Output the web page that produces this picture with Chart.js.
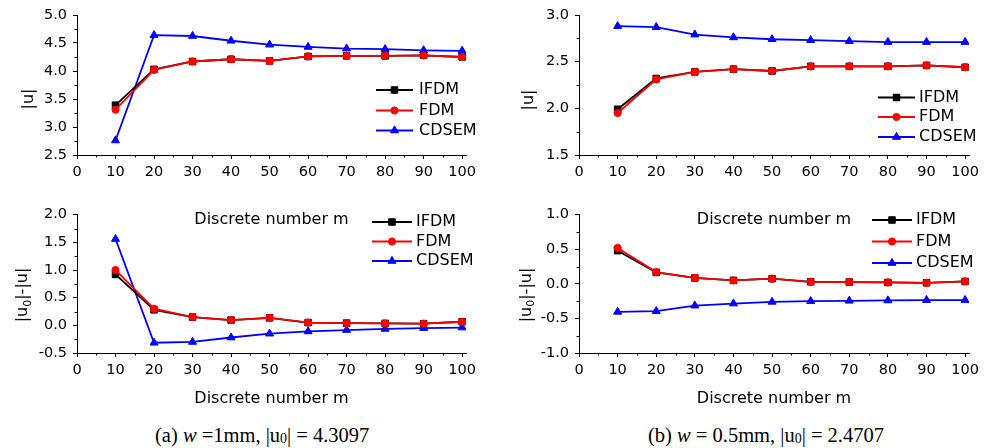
<!DOCTYPE html>
<html>
<head>
<meta charset="utf-8">
<script src="https://cdn.jsdelivr.net/npm/chart.js@4/dist/chart.umd.min.js"></script>
<style>
  body { margin: 0; background: #fff; }
  #wrap { position: relative; width: 995px; height: 448px; overflow: hidden; }
  canvas { position: absolute; }
  .cap { position: absolute; top: 423px; font-family: "Liberation Serif", "Times New Roman", serif; font-size: 20.5px; line-height: 24px; color: #000; white-space: nowrap; }
  .cap sub { font-size: 14px; vertical-align: -1px; }
</style>
</head>
<body>
<div id="wrap">
  <canvas id="ta" width="497" height="232" style="left:0;top:0"></canvas>
  <canvas id="tb" width="498" height="232" style="left:497px;top:0"></canvas>
  <canvas id="ba" width="497" height="210" style="left:0;top:200px"></canvas>
  <canvas id="bb" width="498" height="210" style="left:497px;top:200px"></canvas>
  <div class="cap" style="left:155px">(a) <i>w</i> =1mm, |u<sub>0</sub>| = 4.3097</div>
  <div class="cap" style="left:648px">(b) <i>w</i> = 0.5mm, |u<sub>0</sub>| = 2.4707</div>
</div>
<script>
// discrete number m
const mValues = [10, 20, 30, 40, 50, 60, 70, 80, 90, 100];
const xTicks = [0, 10, 20, 30, 40, 50, 60, 70, 80, 90, 100];

// (a) w = 1mm, |u0| = 4.3097
const ifdmA = [3.39, 4.03, 4.17, 4.21, 4.18, 4.26, 4.27, 4.27, 4.28, 4.25];
const fdmA = [3.31, 4.02, 4.17, 4.21, 4.18, 4.26, 4.27, 4.27, 4.28, 4.25];
const cdsemA = [2.76, 4.64, 4.625, 4.54, 4.47, 4.43, 4.40, 4.39, 4.37, 4.36];
const ifdmErrA = [0.92, 0.28, 0.15, 0.095, 0.135, 0.05, 0.04, 0.035, 0.03, 0.065];
const fdmErrA = [1.00, 0.30, 0.15, 0.095, 0.135, 0.05, 0.04, 0.035, 0.03, 0.065];
const cdsemErrA = [1.56, -0.315, -0.30, -0.22, -0.15, -0.11, -0.085, -0.065, -0.05, -0.04];

// (b) w = 0.5mm, |u0| = 2.4707
const ifdmB = [1.99, 2.32, 2.39, 2.42, 2.40, 2.45, 2.45, 2.45, 2.46, 2.44];
const fdmB = [1.95, 2.31, 2.39, 2.42, 2.40, 2.45, 2.45, 2.45, 2.46, 2.44];
const cdsemB = [2.88, 2.87, 2.79, 2.76, 2.74, 2.73, 2.72, 2.71, 2.71, 2.71];
const ifdmErrB = [0.48, 0.165, 0.085, 0.05, 0.075, 0.03, 0.025, 0.02, 0.015, 0.035];
const fdmErrB = [0.52, 0.17, 0.085, 0.05, 0.075, 0.03, 0.025, 0.02, 0.015, 0.035];
const cdsemErrB = [-0.405, -0.395, -0.315, -0.285, -0.26, -0.25, -0.245, -0.24, -0.235, -0.235];

// y tick labels
const yTicksA = [2.5, 3.0, 3.5, 4.0, 4.5, 5.0];
const yTicksB = [1.5, 2.0, 2.5, 3.0];
const yTicksErrA = [-0.5, 0.0, 0.5, 1.0, 1.5, 2.0];
const yTicksErrB = [-1.0, -0.5, 0.0, 0.5, 1.0];

const seriesNames = ["IFDM", "FDM", "CDSEM"];
const xTitle = "Discrete number m";

const FONT = "DejaVu Sans";

// minor ticks, y axis titles and the legend box
const deco = {
  id: "deco",
  afterDraw(chart, args, opts) {
    const c = chart.ctx;
    const xs = chart.scales.x, ys = chart.scales.y;
    c.save();
    c.strokeStyle = "#000";
    c.lineWidth = 1;
    c.beginPath();
    for (let i = 0; i < xTicks.length - 1; i++) {
      const px = Math.round(xs.getPixelForValue((xTicks[i] + xTicks[i + 1]) / 2)) + 0.5;
      c.moveTo(px, xs.top);
      c.lineTo(px, xs.top + 2.5);
    }
    const yt = opts.yTicks;
    for (let i = 0; i < yt.length - 1; i++) {
      const py = Math.round(ys.getPixelForValue((yt[i] + yt[i + 1]) / 2)) + 0.5;
      c.moveTo(ys.right, py);
      c.lineTo(ys.right - 2.5, py);
    }
    c.stroke();

    // legend
    const lg = opts.legend;
    chart.data.datasets.forEach((ds, i) => {
      const y = lg.rows[i];
      c.strokeStyle = ds.borderColor;
      c.lineWidth = ds.borderWidth;
      c.beginPath();
      c.moveTo(lg.x1, y);
      c.lineTo(lg.x2, y);
      c.stroke();
      c.fillStyle = ds.backgroundColor;
      c.lineWidth = 1;
      Chart.helpers.drawPoint(c, { pointStyle: ds.pointStyle, radius: ds.pointRadius, borderWidth: 1, rotation: 0 }, (lg.x1 + lg.x2) / 2, y);
      c.fillStyle = "#000";
      c.font = "16px '" + FONT + "'";
      c.textBaseline = "middle";
      c.textAlign = "left";
      c.fillText(ds.label, lg.tx, y);
    });

    // rotated y title, "0" as subscript
    const t = opts.yTitle;
    c.translate(t.x, t.y);
    c.rotate(-Math.PI / 2);
    c.fillStyle = "#000";
    c.textBaseline = "alphabetic";
    c.textAlign = "left";
    let w = 0;
    t.parts.forEach(p => {
      c.font = (p.sub ? "11px '" : "16px '") + FONT + "'";
      w += c.measureText(p.text).width;
    });
    let x = -w / 2;
    t.parts.forEach(p => {
      c.font = (p.sub ? "11px '" : "16px '") + FONT + "'";
      c.fillText(p.text, x, p.sub ? 9.5 : 6);
      x += c.measureText(p.text).width;
    });
    c.restore();
  }
};

function makeChart(id, vals, cfg) {
  const styles = [
    { color: "#000000", pointStyle: "rect", pointRadius: 4.6, order: 1 },
    { color: "#ff0000", pointStyle: "circle", pointRadius: 3.6, order: 0 },
    { color: "#0000ff", pointStyle: "triangle", pointRadius: 4.6, order: 2 }
  ];
  const datasets = vals.map((arr, i) => ({
    label: seriesNames[i],
    data: mValues.map((m, j) => ({ x: m, y: arr[j] })),
    borderColor: styles[i].color,
    backgroundColor: styles[i].color,
    pointBackgroundColor: styles[i].color,
    pointBorderColor: styles[i].color,
    pointStyle: styles[i].pointStyle,
    pointRadius: styles[i].pointRadius,
    pointBorderWidth: 1,
    borderWidth: 1.8,
    order: styles[i].order,
    tension: 0
  }));

  return new Chart(document.getElementById(id), {
    type: "line",
    data: { datasets },
    plugins: [deco],
    options: {
      responsive: false,
      animation: false,
      devicePixelRatio: 1,
      layout: { padding: cfg.padding },
      plugins: {
        legend: { display: false },
        tooltip: { enabled: false },
        deco: { yTicks: cfg.yTicks, legend: cfg.legend, yTitle: cfg.yTitle }
      },
      scales: {
        x: {
          type: "linear",
          min: 0,
          max: 101,
          afterBuildTicks: s => { s.ticks = xTicks.map(v => ({ value: v })); },
          afterFit: s => { s.height = cfg.xHeight; },
          ticks: {
            autoSkip: false,
            maxRotation: 0,
            padding: 5,
            color: "#000",
            font: { family: FONT, size: 14.5 },
            callback: v => String(v)
          },
          grid: { drawOnChartArea: false, tickLength: 4, tickColor: "#000" },
          border: { color: "#000", width: 1 },
          title: {
            display: cfg.showXTitle,
            text: xTitle,
            color: "#000",
            font: { family: FONT, size: 16 },
            padding: { top: 0, bottom: cfg.titlePad }
          }
        },
        y: {
          min: cfg.yTicks[0],
          max: cfg.yTicks[cfg.yTicks.length - 1],
          afterBuildTicks: s => { s.ticks = cfg.yTicks.map(v => ({ value: v })); },
          afterFit: s => { s.width = cfg.yWidth; },
          ticks: {
            padding: 6,
            color: "#000",
            font: { family: FONT, size: 14.5 },
            callback: v => Number(v).toFixed(1)
          },
          grid: { drawOnChartArea: false, tickLength: 4, tickColor: "#000" },
          border: { color: "#000", width: 1 }
        }
      }
    }
  });
}

const uTitle = [{ text: "|u|" }];
const errTitle = [{ text: "|u" }, { text: "0", sub: true }, { text: "|-|u|" }];

makeChart("ta", [ifdmA, fdmA, cdsemA], {
  padding: { top: 15, right: 31, left: 0, bottom: 0 },
  yWidth: 77, xHeight: 77, showXTitle: true, titlePad: 3,
  yTicks: yTicksA,
  legend: { x1: 376, x2: 413, tx: 419, rows: [90, 110.5, 130.5] },
  yTitle: { x: 27, y: 99, parts: uTitle }
});

makeChart("tb", [ifdmB, fdmB, cdsemB], {
  padding: { top: 15, right: 26, left: 0, bottom: 0 },
  yWidth: 82, xHeight: 77, showXTitle: true, titlePad: 3,
  yTicks: yTicksB,
  legend: { x1: 381, x2: 418, tx: 422, rows: [97.5, 117, 137] },
  yTitle: { x: 30, y: 100, parts: uTitle }
});

makeChart("ba", [ifdmErrA, fdmErrA, cdsemErrA], {
  padding: { top: 13, right: 31, left: 0, bottom: 0 },
  yWidth: 77, xHeight: 57, showXTitle: true, titlePad: 2,
  yTicks: yTicksErrA,
  legend: { x1: 372, x2: 412, tx: 416, rows: [22, 41.5, 61] },
  yTitle: { x: 21, y: 95, parts: errTitle }
});

makeChart("bb", [ifdmErrB, fdmErrB, cdsemErrB], {
  padding: { top: 13, right: 26, left: 0, bottom: 0 },
  yWidth: 82, xHeight: 57, showXTitle: true, titlePad: 2,
  yTicks: yTicksErrB,
  legend: { x1: 375, x2: 415, tx: 419, rows: [20, 41.5, 63] },
  yTitle: { x: 27.5, y: 95, parts: errTitle }
});
</script>
</body>
</html>
